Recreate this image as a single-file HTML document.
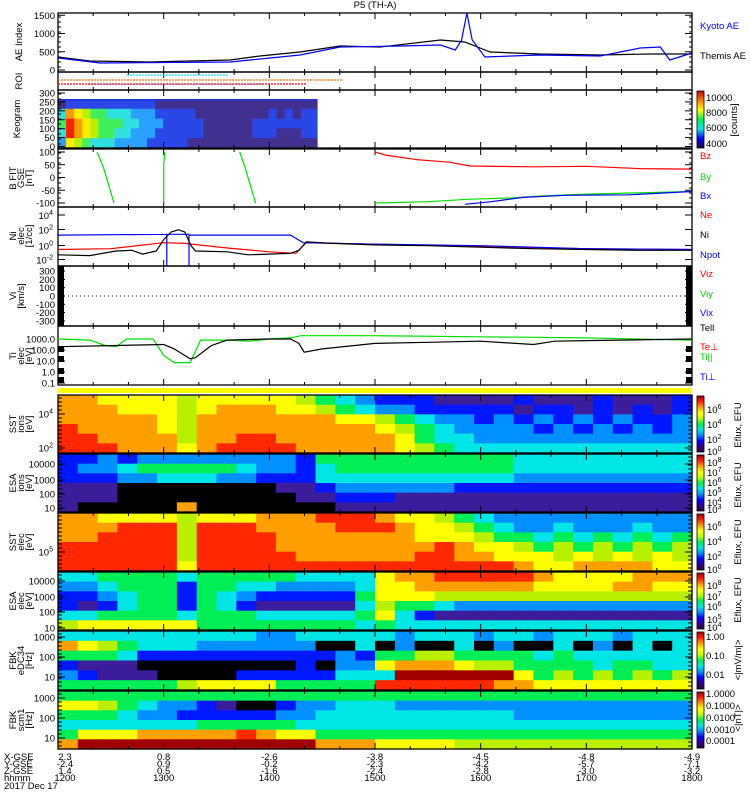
<!DOCTYPE html>
<html><head><meta charset="utf-8">
<style>
html,body{margin:0;padding:0;background:#fff;}
svg{display:block;font-family:"Liberation Sans",sans-serif;}
text{font-size:9.5px;}
</style></head>
<body>
<svg id="chart" width="750" height="800" viewBox="0 0 750 800" xmlns="http://www.w3.org/2000/svg">
<text x="375" y="8" text-anchor="middle">P5 (TH-A)</text>
<g id="layer"></g>
</svg>
<script>
// ---- data ----
const hourTicks = [12,13,14,15,16,17,18];
const hhmmLabels = ["1200","1300","1400","1500","1600","1700","1800"];
const xgse = ["2.3","0.8","-2.6","-3.8","-4.5","-4.8","-4.9"];
const ygse = ["-2.4","0.9","-0.2","-2.3","-4.2","-5.7","-7.1"];
const zgse = ["1.4","0.5","-1.6","-2.4","-2.8","-3.0","-3.2"];

const themisT = [12,12.3,12.87,13.63,13.91,14.29,14.67,15.05,15.62,15.85,16.09,16.56,17.13,17.6,18];
const themisAE = [356,247,219,274,384,493,658,630,822,767,493,438,411,438,438];
const kyotoT = [12,12.4,13.63,14.29,14.67,15.24,15.62,15.76,15.82,15.87,15.92,16.04,16.56,17.13,17.51,17.7,17.79,18];
const kyotoAE = [329,192,219,411,630,658,685,548,822,1560,822,356,411,384,603,630,274,466];

const bzT = [15.0,15.1,15.4,15.7,15.9,16.5,17.0,17.5,18.0];
const bzV = [100,88,70,60,45,42,44,35,33];
const byT = [15.0,15.5,15.9,16.3,16.6,17.0,17.5,18.0];
const byV = [-100,-95,-85,-80,-72,-65,-60,-55];
const bxT = [15.85,16.1,16.4,16.8,17.4,18.0];
const bxV = [-105,-95,-78,-70,-68,-55];
const byEarlyT1 = [12.37,12.43,12.48,12.53]; const byEarlyV1 = [100,40,-30,-100];
const byEarlyT2 = [13.0,13.0,13.01]; const byEarlyV2 = [-100,50,100];
const byEarlyT3 = [13.72,13.77,13.82,13.87]; const byEarlyV3 = [100,40,-30,-100];

const niT = [12.0,12.3,12.55,12.7,12.8,12.93,13.0,13.07,13.14,13.2,13.26,13.3,13.6,13.8,14.0,14.2,14.28,14.35,14.6,15.0,15.5,16.0,16.5,17.0,17.5,18.0];
const niV = [-1.2,-1.3,-0.7,-0.6,-1.1,-0.7,0.8,1.8,2.1,1.8,0.0,-0.7,-0.8,-1.2,-1.1,-1.0,-0.6,0.5,0.3,0.1,0.0,-0.2,-0.4,-0.5,-0.6,-0.6];
const neT = [12.0,12.5,13.0,13.2,13.6,14.0,14.25,14.35,15.0,16.0,17.0,18.0];
const neV = [-0.5,-0.4,0.4,0.3,-0.3,-0.8,-1.0,0.4,0.2,-0.1,-0.4,-0.5];
const npT = [12.0,13.03,13.03,13.03,13.24,13.24,13.24,14.2,14.32,15.0,16.0,17.0,18.0];
const npV = [1.4,1.5,-3.5,1.5,1.5,-3.5,1.4,1.4,0.4,0.2,0.0,-0.4,-0.5];

const teT = [12,12.5,13,13.1,13.25,13.3,13.45,13.6,14,14.2,14.28,14.33,14.5,15,15.5,16,16.5,16.7,17,18];
const teV = [2.3,2.4,2.5,2.1,1.2,1.3,2.4,2.9,3.0,3.0,2.6,1.8,2.1,2.6,2.7,2.8,2.5,2.8,2.85,3.0];
const tiT = [12,12.3,12.45,12.55,12.65,12.9,13.0,13.1,13.25,13.35,13.6,13.8,14,14.2,14.3,15,16,17,18];
const tiV = [3.0,2.9,2.4,2.3,3.0,3.0,1.5,0.85,0.85,2.9,2.9,2.8,3.0,3.1,3.3,3.3,3.2,3.1,2.9];

const keogramRows = [
 "12222222222211111111111111111111",
 "48765544433322222111111111212122",
 "59876555443332222211111122222222",
 "49876554433322222211111122211122",
 "37654443333222221111111111111111"];
const sst1Rows = ["88777767777765432221111211121112","88877767888776543322222122121212","88888768888888776543323232323223","98888768888888887654333323232323","99888868899888888754433333333333","99988878999988888765444444444444"];
const esa1Rows = ["22323333333325555555555444444444","23345555543324555555555444444444","22233444332224444444444333333333","11100000000112333333222222222222","11100000000011222111111111111111","10000080000000111111111111111111"];
const sst2Rows = ["88777767778889998776543333333333","88899969998888999877654334333433","88999969999888888877765545454545","99999969999888888889877656565656","99999969999988888899887776767676","99999979999999999999999877888877"];
const esa2Rows = ["44555545555544447889999987777888","33455525544333347788888877778877","22345525432222257776666666666666","21245525421111146554333333333333","44555545554444457421111111111111","67777775555555545444444444444444"];
const fbk1Rows = ["44444444443344444344434434443444","87654443333330040300403004030404","55542222222222325566555545444444","21110000000020337888766555545544","32111000022222444aaaaaa756565656","55555567777555559999998877777777"];
const fbk2Rows = ["55555555555555555555555555555555","77654332100233444333333333333333","55543322222334444444444333333333","44444445555544444444444444444444","57778888898775555555555555555555","8aaaaaaaaaaaa8887777666666666666"];

// ---- helpers ----
const NS="http://www.w3.org/2000/svg";
const layer=document.getElementById('layer');
const X0=58,X1=692,T0=12,T1=18;
const xs=t=>X0+(t-T0)/(T1-T0)*(X1-X0);
const pal={"0":"#000000","1":"#3c1e9c","2":"#0018ff","3":"#0090ff","4":"#00e6e6","5":"#00ee55","6":"#b8f000","7":"#ffff00","8":"#ffa000","9":"#ff2800","a":"#a00000"};
const kpal={"1":"#42308e","2":"#2a48e8","3":"#2aa0ff","4":"#30e0e0","5":"#40ee60","6":"#b8f000","7":"#ffee00","8":"#ff9a00","9":"#ff2000"};
function el(tag,attrs,parent){const e=document.createElementNS(NS,tag);for(const k in attrs)e.setAttribute(k,attrs[k]);(parent||layer).appendChild(e);return e;}
function txt(x,y,s,opt){const e=el('text',Object.assign({x:x,y:y},opt||{}));e.textContent=s;return e;}

function grid(rows,y0,y1,x0,x1,p,name){
  const g=el('g',{});
  
  
  const nr=rows.length,nc=rows[0].length;
  const ch=(y1-y0)/nr,cw=(x1-x0)/nc;
  rows.forEach((r,i)=>{for(let j=0;j<nc;j++){
    const c=el('rect',{x:(x0+j*cw).toFixed(2),y:(y0+i*ch).toFixed(2),width:(cw+0.6).toFixed(2),height:(ch+0.6).toFixed(2),fill:p[r[j]]},g);
    
    
  }});
}
function line(ts,vs,ymap,color,name,clip){
  const pts=ts.map((t,i)=>xs(t).toFixed(1)+","+ymap(vs[i]).toFixed(1)).join(" ");
  const p=el('polyline',{points:pts,fill:"none",stroke:color,"stroke-width":1.2,"clip-path":clip?"url(#"+clip+")":""});
  
  
}
function frame(y0,y1,name){
  const r=el('rect',{x:X0,y:y0,width:X1-X0,height:y1-y0,fill:"none",stroke:"#000","stroke-width":1.3});
  
  
  for(let t=T0;t<=T1+1e-6;t+=1/3){
    const major=Math.abs(t-Math.round(t))<0.01, L=major?6:3, x=xs(t);
    el('line',{x1:x,x2:x,y1:y0,y2:y0+L,stroke:"#000","stroke-width":1});
    el('line',{x1:x,x2:x,y1:y1,y2:y1-L,stroke:"#000","stroke-width":1});
  }
}
function yticks(y0,y1,labels){
  labels.forEach(([y,s])=>{
    el('line',{x1:X0,x2:X0+7,y1:y,y2:y,stroke:"#000"});
    el('line',{x1:X1,x2:X1-7,y1:y,y2:y,stroke:"#000"});
    txt(55,y+3.5,s,{"text-anchor":"end"});
  });
  for(let y=y0+4;y<y1;y+=5){
    el('line',{x1:X0,x2:X0+3,y1:y,y2:y,stroke:"#000"});
    el('line',{x1:X1,x2:X1-3,y1:y,y2:y,stroke:"#000"});
  }
}
function sup(x,y,base,exp,anchor){
  const t=el('text',{x:x,y:y,"text-anchor":anchor||"end"});
  t.appendChild(document.createTextNode(base));
  const s=el('tspan',{dy:-4,"font-size":"7px"},t);s.textContent=exp;
  return t;
}
function vlabel(x,y,lines,name){
  const g=el('g',{transform:"translate("+x+","+y+") rotate(-90)"});
  
  
  lines.forEach((s,i)=>{const t=el('text',{x:0,y:i*8,"text-anchor":"middle","font-size":i?"8px":"9.5px"},g);t.textContent=s;});
}
function colorbar(y0,y1,name,stops){
  const id='cb'+Math.round(y0);
  const d=el('defs',{});const lg=el('linearGradient',{id:id,x1:0,y1:1,x2:0,y2:0},d);
  stops.forEach((c,i)=>el('stop',{offset:(i/(stops.length-1)),"stop-color":c},lg));
  const r=el('rect',{x:697,y:y0,width:7,height:y1-y0,fill:"url(#"+id+")",stroke:"#000","stroke-width":0.8});
  
  
}
const rainbow=["#2a0040","#30008a","#0000ff","#0090ff","#00e8e8","#00f050","#c0ff00","#ffff00","#ffa000","#ff2000","#a00000"];

const defs=el('defs',{});
[["cBF",149,207],["cNI",207,266],["cAE",13,72]].forEach(([id,a,b])=>{const c=el('clipPath',{id:id},defs);el('rect',{x:X0,y:a,width:X1-X0,height:b-a},c);});

// ---- AE panel ----
const aeY=v=>70-v*0.0365;
frame(13,72,"ae-panel");
yticks(13,72,[[aeY(0),"0"],[aeY(500),"500"],[aeY(1000),"1000"],[aeY(1500),"1500"]]);
line(themisT,themisAE,aeY,"#000","themis-ae-line","cAE");
line(kyotoT,kyotoAE,aeY,"#0000ff","kyoto-ae-line","cAE");
vlabel(22,42,["AE Index"],"ae-axis-title");
txt(700,29,"Kyoto AE",{fill:"#0000ff",});
txt(700,59,"Themis AE",{fill:"#000"});

// ---- ROI ----
frame(72,90,"roi-panel");
el('line',{x1:xs(12.65),x2:xs(13.6),y1:75,y2:75,stroke:"#00d8e8","stroke-width":1.2,"stroke-dasharray":"2 1"});
el('line',{x1:X0,x2:xs(14.7),y1:80,y2:80,stroke:"#ff7000","stroke-width":1.2,"stroke-dasharray":"2 1"});
el('line',{x1:X0,x2:xs(14.35),y1:84,y2:84,stroke:"#ff0000","stroke-width":1.2,"stroke-dasharray":"2 1"});
el('line',{x1:xs(12.3),x2:xs(13.95),y1:84.5,y2:84.5,stroke:"#2040ff","stroke-width":0.8,"stroke-dasharray":"1 2"});
vlabel(22,81,["ROI"],"roi-axis-title");

// ---- Keogram ----
grid(keogramRows,99,148,X0,317,kpal,"keogram-image");
el('line',{x1:X0,x2:317,y1:100,y2:100,stroke:"#2030e0","stroke-width":1.5});
frame(90,148,"keogram-panel");
const kY=v=>146.5-v*(53.5/300);
yticks(90,148,[0,50,100,150,200,250,300].map(v=>[kY(v),String(v)]));
vlabel(20,119,["Keogram"],"keogram-axis-title");
colorbar(91,148,"keogram-colorbar",["#2a0040","#0000ff","#00e8e8","#00f050","#ffff00","#ff8000","#c00000"]);
[[98,"10000"],[113,"8000"],[128,"6000"],[144,"4000"]].forEach(([y,s])=>txt(706,y+3,s,{"font-size":"9px"}));
vlabel(737,120,["[counts]"],"keogram-colorbar-title");

// ---- B FIT ----
const bY=v=>177.5-v*0.255;
frame(149,207,"bfit-panel");
yticks(149,207,[[bY(100),"100"],[bY(50),"50"],[bY(0),"0"],[bY(-50),"-50"],[bY(-100),"-100"]]);
line(byEarlyT1,byEarlyV1,bY,"#00e000","by-early-1","cBF");
line(byEarlyT2,byEarlyV2,bY,"#00e000","by-early-2","cBF");
line(byEarlyT3,byEarlyV3,bY,"#00e000","by-early-3","cBF");
line(bzT,bzV,bY,"#ff0000","bz-line","cBF");
line(byT,byV,bY,"#00e000","by-line","cBF");
line(bxT,bxV,bY,"#0000ff","bx-line","cBF");
vlabel(16,178,["B FIT","GSE","[nT]"],"bfit-axis-title");
txt(700,159,"Bz",{fill:"#ff0000"});txt(700,180,"By",{fill:"#00d000"});txt(700,199,"Bx",{fill:"#0000ff"});

// ---- Ni ----
const nY=v=>245.7-v*7.6;
frame(207,266,"density-panel");
[[4,215],[2,229.5],[0,245.5],[-2,259.5]].forEach(([e,y])=>{el('line',{x1:X0,x2:X0+7,y1:y,y2:y,stroke:"#000"});el('line',{x1:X1,x2:X1-7,y1:y,y2:y,stroke:"#000"});sup(53,y+4,"10",String(e));});
line(neT,neV,nY,"#ff0000","ne-line","cNI");
line(npT,npV,nY,"#0000ff","npot-line","cNI");
line(niT,niV,nY,"#000","ni-line","cNI");
vlabel(16,236,["Ni","elec","[1/cc]"],"density-axis-title");
txt(700,218,"Ne",{fill:"#ff0000"});txt(700,238,"Ni",{fill:"#000"});txt(700,258,"Npot",{fill:"#0000ff"});

// ---- Vi ----
const vY=v=>296-v*0.083;
frame(266,326,"velocity-panel");
yticks(266,326,[300,200,100,0,-100,-200,-300].map(v=>[vY(v),String(v)]));
el('rect',{x:X0,y:266,width:6,height:60,fill:"#000"});
el('rect',{x:X1-6,y:266,width:6,height:60,fill:"#000"});
el('line',{x1:X0+6,x2:X1-6,y1:vY(0),y2:vY(0),stroke:"#000","stroke-dasharray":"1 3"});
vlabel(16,296,["Vi","[km/s]"],"velocity-axis-title");
txt(700,277,"Viz",{fill:"#ff0000"});txt(700,297,"Viy",{fill:"#00d000"});txt(700,316,"Vix",{fill:"#0000ff"});

// ---- Ti ----
const tY=v=>372-v*11;
frame(326,385,"temperature-panel");
[[3,"1000.0"],[2,"100.0"],[1,"10.0"],[0,"1.0"],[-1,"0.1"]].forEach(([e,s])=>{const y=tY(e);el('line',{x1:X0,x2:X0+7,y1:y,y2:y,stroke:"#000"});el('line',{x1:X1,x2:X1-7,y1:y,y2:y,stroke:"#000"});txt(55,y+3.5,s,{"text-anchor":"end"});});
[[346,6],[356,6],[368,6],[377,6]].forEach(([y,h])=>{el('rect',{x:X0,y:y,width:6,height:h,fill:"#000"});el('rect',{x:X1-6,y:y,width:6,height:h,fill:"#000"});});
line(tiT,tiV,tY,"#00e000","ti-line");
line(teT,teV,tY,"#000","te-line");
vlabel(16,356,["Ti","elec","[eV]"],"temperature-axis-title");
txt(700,331,"Tell",{fill:"#000"});txt(700,350,"Te\u22A5",{fill:"#ff0000"});txt(700,360,"Ti||",{fill:"#00d000"});txt(700,380,"Ti\u22A5",{fill:"#0000ff"});

// ---- yellow bar ----
el('rect',{x:X0,y:388,width:X1-X0,height:5,fill:"#ffff00",});

// ---- spectrograms ----
const specs=[
 [sst1Rows,395,453,"sst-ion-spectrogram",["SST","ions","[eV]"],[[414,"10","4"],[448,"10","2"]]],
 [esa1Rows,454,512,"esa-ion-spectrogram",["ESA","ions","[eV]"],[[464,"10000",""],[480,"1000",""],[494,"100",""],[508,"10",""]]],
 [sst2Rows,513,571,"sst-electron-spectrogram",["SST","elec","[eV]"],[[552,"10","5"]]],
 [esa2Rows,572,630,"esa-electron-spectrogram",["ESA","elec","[eV]"],[[581,"10000",""],[597,"1000",""],[612,"100",""],[628,"10",""]]],
 [fbk1Rows,631,690,"fbk-e-spectrogram",["FBK","eDC34","[Hz]"],[[637,"1000",""],[657,"100",""],[677,"10",""]]],
 [fbk2Rows,691,749,"fbk-b-spectrogram",["FBK","scm1","[Hz]"],[[698,"1000",""],[718,"100",""],[738,"10",""]]]
];
specs.forEach(([rows,a,b,name,lab,ticks])=>{
  grid(rows,a,b,X0,X1,pal,name);
  frame(a,b,name+"-frame");
  ticks.forEach(([y,s,e])=>{el('line',{x1:X0,x2:X0+7,y1:y,y2:y,stroke:"#000"});el('line',{x1:X1,x2:X1-7,y1:y,y2:y,stroke:"#000"});
    if(e) sup(53,y+3.5,s,e); else txt(55,y+3.5,s,{"text-anchor":"end"});});
  for(let y=a+3;y<b;y+=4){el('line',{x1:X0,x2:X0+4,y1:y,y2:y,stroke:"#000"});el('line',{x1:X1,x2:X1-4,y1:y,y2:y,stroke:"#000"});}
  vlabel(16,(a+b)/2,lab,name+"-axis-title");
  colorbar(a+1,b-1,name+"-colorbar",rainbow);
});
[[410,"6"],[425,"4"],[440,"2"],[452,"0"]].forEach(([y,e])=>sup(707,y+3,"10",e,"start"));
[[463,"8"],[473,"7"],[483,"6"],[493,"5"],[503,"4"],[510,"3"]].forEach(([y,e])=>sup(707,y+3,"10",e,"start"));
[[527,"6"],[542,"4"],[557,"2"],[570,"0"]].forEach(([y,e])=>sup(707,y+3,"10",e,"start"));
[[586,"8"],[597,"7"],[607,"6"],[620,"5"],[628,"4"]].forEach(([y,e])=>sup(707,y+3,"10",e,"start"));
[[637,"1.00"],[656,"0.10"],[675,"0.01"]].forEach(([y,s])=>txt(706,y+3,s,{"font-size":"9px"}));
[[694,"1.0000"],[706,"0.1000"],[718,"0.0100"],[730,"0.0010"],[741,"0.0001"]].forEach(([y,s])=>txt(706,y+3,s,{"font-size":"9px"}));
[[425,"Eflux, EFU"],[485,"Eflux, EFU"],[542,"Eflux, EFU"],[600,"Eflux, EFU"],[660,"<|mV/m|>"],[718,"<|nT|>"]].forEach(([y,s])=>vlabel(741,y,[s],"colorbar-title"));

// ---- bottom ephemeris labels ----
const rowsY=[760,767,774,781];
[["X-GSE",xgse],["Y-GSE",ygse],["Z-GSE",zgse],["hhmm",hhmmLabels]].forEach(([lab,arr],r)=>{
  txt(4,rowsY[r],lab,{"font-size":"9px"});
  hourTicks.forEach((t,i)=>txt(xs(t)+(i==0?7:0),rowsY[r],arr[i],{"text-anchor":"middle","font-size":"9px"}));
});
txt(4,789,"2017 Dec 17",{"font-size":"9px"});
</script>
</body></html>
